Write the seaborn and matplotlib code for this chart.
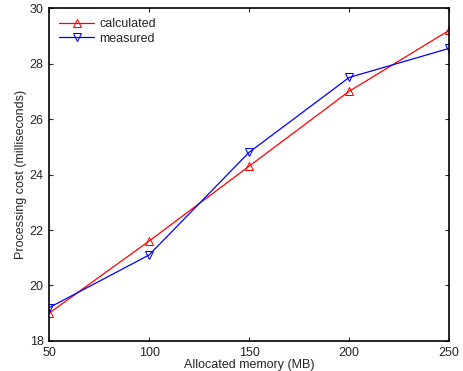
import seaborn as sns
import matplotlib.pyplot as plt
import pandas as pd

memory = [50, 100, 150, 200, 250]
calculated = [19.0, 21.6, 24.3, 27.0, 29.2]
measured = [19.2, 21.1, 24.8, 27.5, 28.55]

sns.set_style("ticks")
plt.rcParams['font.family'] = ['Liberation Sans', 'DejaVu Sans']

df = pd.DataFrame({
    "memory": memory * 2,
    "cost": calculated + measured,
    "series": ["calculated"] * 5 + ["measured"] * 5,
})

fig = plt.figure(figsize=(4.63, 3.71), dpi=100)
ax = fig.add_axes([0.106, 0.081, 0.864, 0.897])

sns.lineplot(data=df[df.series == "calculated"], x="memory", y="cost",
             color="red", marker="^", markersize=6, markerfacecolor="none",
             markeredgecolor="red", linewidth=0.9, label="calculated", ax=ax)
sns.lineplot(data=df[df.series == "measured"], x="memory", y="cost",
             color="blue", marker="v", markersize=6, markerfacecolor="none",
             markeredgecolor="blue", linewidth=0.9, label="measured", ax=ax)

ax.set_xlim(50, 250)
ax.set_ylim(18, 30)
ax.set_xticks([50, 100, 150, 200, 250])
ax.set_yticks([18, 20, 22, 24, 26, 28, 30])
ax.tick_params(direction="in", top=True, right=True, labelsize=9, length=3, width=0.8)
ax.tick_params(axis="x", pad=4)
ax.tick_params(axis="y", pad=4)
for s in ax.spines.values():
    s.set_linewidth(1.2)
    s.set_color("black")
ax.set_xlabel("Allocated memory (MB)", fontsize=9, labelpad=0)
ax.set_ylabel("Processing cost (milliseconds)", fontsize=9, labelpad=2)

leg = ax.legend(loc="upper left", frameon=False, fontsize=9, handlelength=2.8,
                borderaxespad=0.4, labelspacing=0.2, handletextpad=0.4)

fig.savefig("out.png", dpi=100)
